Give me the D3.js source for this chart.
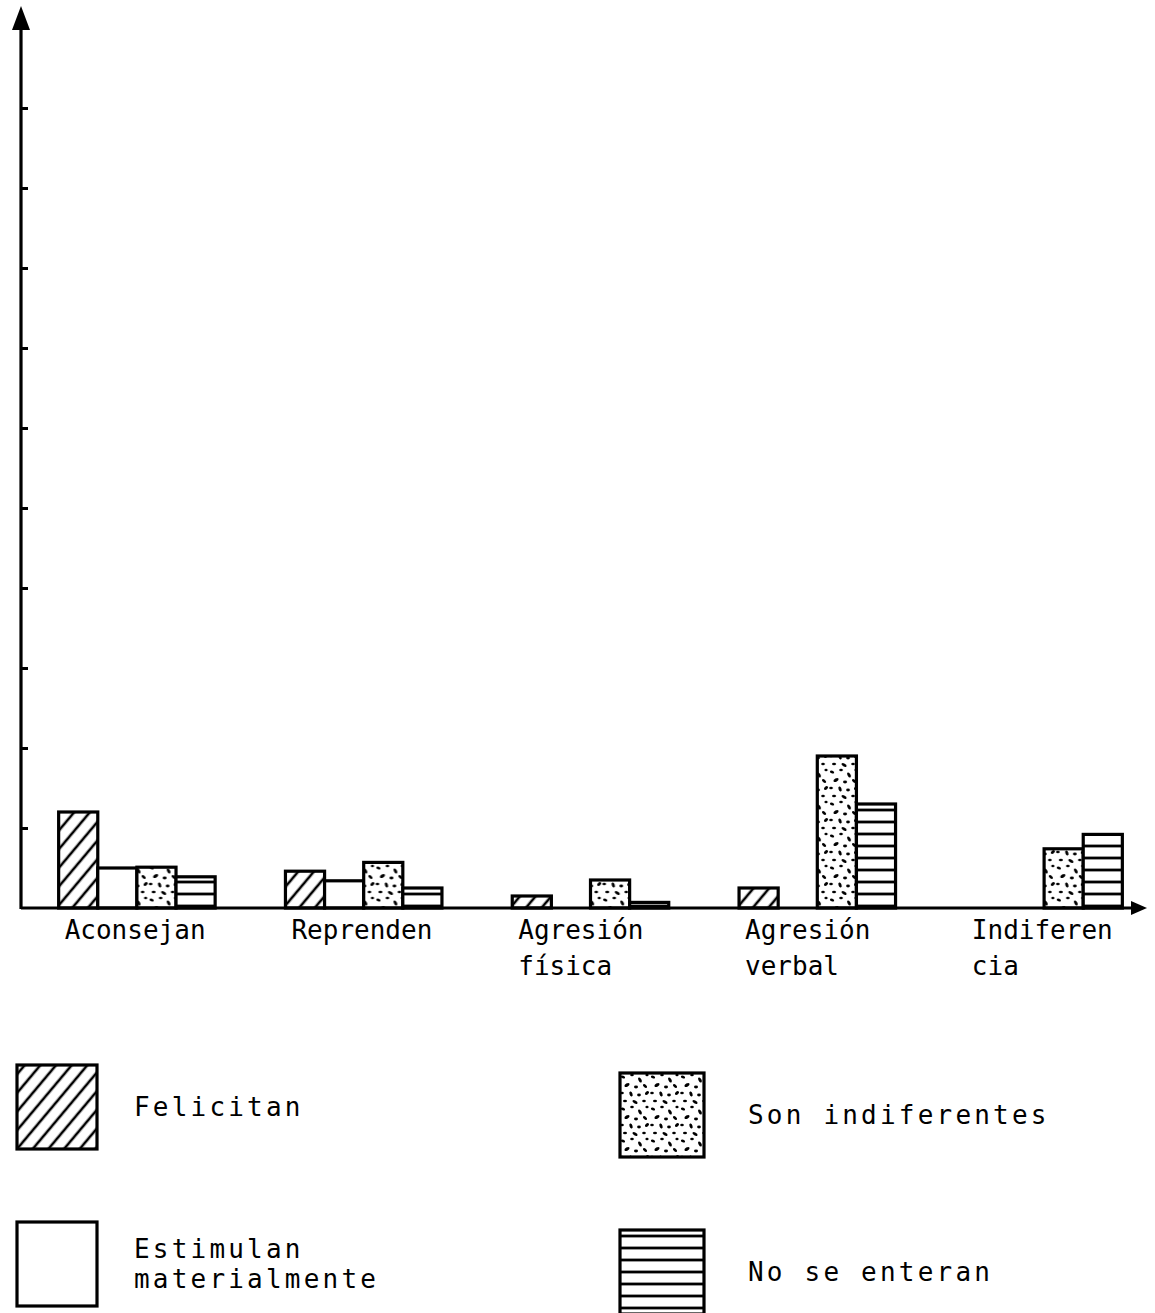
<!DOCTYPE html>
<html lang="es">
<head>
  <meta charset="UTF-8">
  <title>Reacción de los padres</title>
  <style>
    body {
      margin: 0;
      background-color: #fff;
    }
    svg {
      display: block;
    }
    text {
      font-family: "DejaVu Sans Mono", "Liberation Mono", monospace;
      fill: #000;
    }
  </style>
</head>
<body>
  <svg width="1155" height="1313"></svg>

  <script src="https://d3js.org/d3.v7.min.js"></script>
  <script>
    // datos
    const categories = ["Aconsejan", "Reprenden", "Agresión física", "Agresión verbal", "Indiferencia"];
    const categoryLines = [["Aconsejan"], ["Reprenden"], ["Agresión", "física"], ["Agresión", "verbal"], ["Indiferen", "cia"]];
    const series = ["Felicitan", "Estimulan materialmente", "Son indiferentes", "No se enteran"];
    const seriesLines = [["Felicitan"], ["Estimulan", "materialmente"], ["Son indiferentes"], ["No se enteran"]];

    const felicitan     = [12, 4.6, 1.5, 2.5, 0];
    const estimulan     = [5, 3.4, 0, 0, 0];
    const sonIndif      = [5.1, 5.7, 3.5, 19, 7.4];
    const noSeEnteran   = [3.9, 2.5, 0.7, 13, 9.2];
    const seriesValues  = [felicitan, estimulan, sonIndif, noSeEnteran];
    const yTicks = d3.range(0, 101, 10);

    const svg = d3.select("svg");
    const defs = svg.append("defs");

    // tramas
    defs.append("pattern")
      .attr("id", "hatch")
      .attr("patternUnits", "userSpaceOnUse")
      .attr("width", 12).attr("height", 12)
      .attr("patternTransform", "rotate(40)")
      .call(p => {
        p.append("rect").attr("width", 12).attr("height", 12).attr("fill", "#fff");
        p.append("line").attr("x1", 6).attr("y1", 0).attr("x2", 6).attr("y2", 12)
          .attr("stroke", "#000").attr("stroke-width", 2.6);
      });

    defs.append("pattern")
      .attr("id", "hlines")
      .attr("patternUnits", "userSpaceOnUse")
      .attr("width", 10).attr("height", 12)
      .call(p => {
        p.append("rect").attr("width", 10).attr("height", 12).attr("fill", "#fff");
        p.append("line").attr("x1", 0).attr("y1", 6).attr("x2", 10).attr("y2", 6)
          .attr("stroke", "#000").attr("stroke-width", 2.8);
      });

    // manchas fijas de la textura moteada
    const speckles = [
      [3, 4, 2.2, 1.4, 20], [12, 2, 1.8, 1.3, 0], [20, 7, 2.8, 1.5, 60], [27, 2, 1.6, 1.3, 0],
      [7, 12, 2.8, 1.6, -30], [16, 14, 2.0, 1.4, 0], [25, 13, 2.5, 1.4, 45], [2, 20, 1.8, 1.3, 0],
      [11, 21, 2.6, 1.5, 70], [19, 22, 1.9, 1.4, 0], [27, 20, 2.3, 1.5, -40], [5, 28, 2.0, 1.3, 0],
      [15, 29, 2.8, 1.5, 30], [24, 28, 1.8, 1.3, 0]
    ];
    defs.append("pattern")
      .attr("id", "speckle")
      .attr("patternUnits", "userSpaceOnUse")
      .attr("width", 30).attr("height", 32)
      .call(p => {
        p.append("rect").attr("width", 30).attr("height", 32).attr("fill", "#fff");
        p.selectAll("ellipse").data(speckles).join("ellipse")
          .attr("cx", d => d[0]).attr("cy", d => d[1])
          .attr("rx", d => d[2]).attr("ry", d => d[3])
          .attr("transform", d => `rotate(${d[4]},${d[0]},${d[1]})`)
          .attr("fill", "#000");
      });

    const fills = ["url(#hatch)", "#fff", "url(#speckle)", "url(#hlines)"];

    // escalas
    const axisX = 21, baseY = 908;
    const x0 = d3.scaleBand().domain(categories).range([axisX, 1160])
      .paddingInner(0.31).paddingOuter(0.166);
    const x1 = d3.scaleBand().domain(series).range([0, x0.bandwidth()]);
    const y = d3.scaleLinear().domain([0, 100]).range([baseY, baseY - 800]);

    // barras
    const groups = svg.append("g").selectAll("g")
      .data(categories)
      .join("g")
      .attr("transform", d => `translate(${x0(d)},0)`);

    groups.selectAll("rect")
      .data((c, ci) => series.map((s, si) => ({ s, si, v: seriesValues[si][ci] })).filter(d => d.v > 0))
      .join("rect")
      .attr("x", d => x1(d.s))
      .attr("y", d => y(d.v))
      .attr("width", x1.bandwidth())
      .attr("height", d => y(0) - y(d.v))
      .attr("fill", d => fills[d.si])
      .attr("stroke", "#000")
      .attr("stroke-width", 3.2);

    // eje Y
    const yAxis = svg.append("g")
      .attr("transform", `translate(${axisX},0)`)
      .call(d3.axisRight(y).tickValues(yTicks.slice(1)).tickSize(7).tickFormat(""));
    yAxis.select(".domain").remove();
    yAxis.selectAll(".tick line").attr("stroke", "#000").attr("stroke-width", 3);

    svg.append("line")
      .attr("x1", axisX).attr("x2", axisX)
      .attr("y1", baseY + 1).attr("y2", 20)
      .attr("stroke", "#000").attr("stroke-width", 3.2);
    svg.append("path")
      .attr("d", `M${axisX},6 L${axisX - 9},30 L${axisX + 9},30 Z`)
      .attr("fill", "#000");

    // eje X
    svg.append("line")
      .attr("x1", axisX).attr("x2", 1135)
      .attr("y1", baseY).attr("y2", baseY)
      .attr("stroke", "#000").attr("stroke-width", 3.2);
    svg.append("path")
      .attr("d", `M1147,${baseY} L1131,${baseY - 7} L1131,${baseY + 7} Z`)
      .attr("fill", "#000");

    // etiquetas de categoría (alineadas al inicio del grupo)
    categories.forEach((c, i) => {
      const t = svg.append("text")
        .attr("font-size", 26)
        .attr("transform", `translate(${x0(c) + 6},0)`);
      categoryLines[i].forEach((line, j) => {
        t.append("tspan").attr("x", 0).attr("y", baseY + 31 + j * 36).text(line);
      });
    });

    // leyenda
    const legendCols = [17, 620], legendRows = [1065, 1222];
    const boxW = 80, boxH = 84;
    series.forEach((s, i) => {
      const right = i >= 2;
      const lx = legendCols[right ? 1 : 0];
      const ly = legendRows[i % 2] + (right ? 8 : 0);
      const g = svg.append("g").attr("transform", `translate(${lx},${ly})`);
      g.append("rect")
        .attr("width", boxW + (right ? 4 : 0)).attr("height", boxH)
        .attr("fill", fills[i])
        .attr("stroke", "#000").attr("stroke-width", 3.2);
      const lines = seriesLines[i];
      const t = g.append("text")
        .attr("font-size", 26)
        .attr("letter-spacing", 3.2);
      lines.forEach((line, j) => {
        t.append("tspan")
          .attr("x", right ? 128 : 117)
          .attr("y", boxH / 2 + 9 + (j - (lines.length - 1) / 2) * 30)
          .text(line);
      });
    });
  </script>
</body>
</html>
